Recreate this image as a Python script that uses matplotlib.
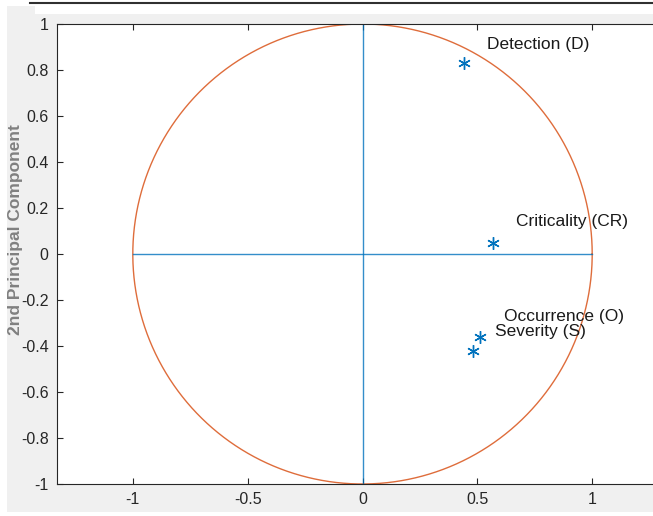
import numpy as np
import matplotlib.pyplot as plt
from matplotlib.patches import Rectangle
from matplotlib.lines import Line2D

# ==============================
# DATA
# ==============================

var_names = ["Detection (D)", "Criticality (CR)", "Occurrence (O)", "Severity (S)"]
pc1 = [0.44, 0.57, 0.51, 0.48]
pc2 = [0.83, 0.05, -0.36, -0.42]

# label positions (text anchor, as placed in the figure)
label_x = [0.54, 0.67, 0.615, 0.575]
label_y = [0.91, 0.14, -0.27, -0.335]

xticks = [-1, -0.5, 0, 0.5, 1]
yticks = [-1, -0.8, -0.6, -0.4, -0.2, 0, 0.2, 0.4, 0.6, 0.8, 1]

BLUE = "#0072BD"
ORANGE = "#D95319"
AX_COLOR = "#262626"
BG = "#f0f0f0"

plt.rcParams["font.family"] = ["Liberation Sans", "DejaVu Sans"]

W, H = 653, 516
fig = plt.figure(figsize=(W / 100, H / 100), dpi=100)
fig.patch.set_facecolor("white")

# gray figure window background (screenshot style)
fig.patches.append(Rectangle((7 / W, 4 / H), 1, (H - 14 - 4) / H,
                             transform=fig.transFigure, facecolor=BG,
                             edgecolor="none", zorder=-10))
fig.patches.append(Rectangle((7 / W, 4 / H), 28 / W, (H - 6 - 4) / H,
                             transform=fig.transFigure, facecolor=BG,
                             edgecolor="none", zorder=-10))
fig.lines.append(Line2D([30 / W, 1], [1 - 3 / H, 1 - 3 / H],
                        transform=fig.transFigure, color="#303030", lw=1.5))

ax = fig.add_axes([57 / W, 32 / H, 611 / W, 460 / H])
ax.set_facecolor("white")

# unit circle
t = np.linspace(0, 2 * np.pi, 400)
ax.plot(np.cos(t), np.sin(t), color=ORANGE, lw=1.0, alpha=0.85)

# axes lines
ax.plot([-1, 1], [0, 0], color=BLUE, lw=1.0, alpha=0.8)
ax.plot([0, 0], [-1, 1], color=BLUE, lw=1.0, alpha=0.8)

# variable points
asterisk = (6, 2, 0)
ax.plot(pc1, pc2, linestyle="none", marker=asterisk, markersize=9,
        markeredgewidth=1.0, color=BLUE)

for name, lx, ly in zip(var_names, label_x, label_y):
    ax.text(lx, ly, name, fontsize=12.5, color="#1a1a1a", va="center", ha="left")

ax.set_xlim(-1.33, 1.33)
ax.set_ylim(-1, 1)
ax.set_xticks(xticks)
ax.set_yticks(yticks)
ax.set_xticklabels([f"{v:g}" for v in xticks])
ax.set_yticklabels([f"{v:g}" for v in yticks])
ax.tick_params(direction="in", length=4, width=0.8, colors=AX_COLOR,
               labelsize=11.5, top=True, right=True, pad=6)
for s in ax.spines.values():
    s.set_color(AX_COLOR)
    s.set_linewidth(0.8)

ax.set_ylabel("2nd Principal Component", fontsize=12.5, color="#808080",
              fontweight="bold")
ax.yaxis.set_label_coords(-(57 - 23) / 611, (484 - 230) / 460)

fig.savefig("out.png", dpi=100, facecolor=fig.get_facecolor())
